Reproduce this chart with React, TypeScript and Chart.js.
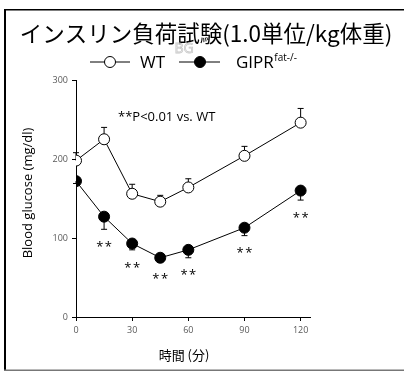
import React, { useEffect, useRef } from "react";
import { Chart, registerables } from "chart.js";

Chart.register(...registerables);

const times = [0, 15, 30, 45, 60, 90, 120];
const wtMean = [198, 225, 156, 146, 164, 204, 246];
const wtErr = [10, 15, 12, 8, 11, 12, 18];
const giprMean = [172, 127, 93, 75, 85, 113, 160];
const giprErr = [3, 16, 8, 4, 10, 10, 12];
const significant = [false, true, true, true, true, true, true];
const xTicks = [0, 30, 60, 90, 120];
const yTicks = [0, 100, 200, 300];

const titleText = "インスリン負荷試験(1.0単位/kg体重)";
const wtLabel = "WT";
const giprLabel = "GIPR";
const giprSup = "fat-/-";
const noteText = "**P<0.01 vs. WT";
const xTitle = "時間 (分)";
const yTitle = "Blood glucose (mg/dl)";

const SANS = "'Open Sans', 'Noto Sans', sans-serif";
const CJK = "'Noto Sans CJK JP', sans-serif";

const decorPlugin = {
  id: "decor",
  beforeDatasetsDraw(chart: any) {
    const ctx = chart.ctx;
    const xs = chart.scales.x;
    const ys = chart.scales.y;
    ctx.save();
    ctx.strokeStyle = "#000";
    ctx.lineWidth = 1;
    const bar = (vals: number[], errs: number[], dir: number) => {
      times.forEach((t, i) => {
        const px = xs.getPixelForValue(t);
        const p0 = ys.getPixelForValue(vals[i]);
        const p1 = ys.getPixelForValue(vals[i] + dir * errs[i]);
        ctx.beginPath();
        ctx.moveTo(px, p0);
        ctx.lineTo(px, p1);
        ctx.moveTo(px - 3, p1);
        ctx.lineTo(px + 3, p1);
        ctx.stroke();
      });
    };
    bar(wtMean, wtErr, 1);
    bar(giprMean, giprErr, -1);
    ctx.restore();
  },
  afterDraw(chart: any) {
    const ctx = chart.ctx;
    const xs = chart.scales.x;
    const ys = chart.scales.y;
    ctx.save();
    // frame
    ctx.fillStyle = "#000";
    ctx.fillRect(4, 9, 400, 1.5);
    ctx.fillRect(4, 9, 2, 362);
    ctx.fillStyle = "#777";
    ctx.fillRect(4, 369.5, 400, 1.5);

    // title
    ctx.fillStyle = "#000";
    ctx.textAlign = "center";
    ctx.textBaseline = "middle";
    ctx.font = `22.5px ${CJK}`;
    ctx.fillText(titleText, 206, 33);

    // BG watermark
    ctx.strokeStyle = "#c8c8c8";
    ctx.lineWidth = 0.8;
    ctx.font = `14px ${SANS}`;
    ctx.strokeText("BG", 184, 49);

    // legend
    ctx.strokeStyle = "#000";
    ctx.lineWidth = 1;
    const legendItem = (x0: number, x1: number, cx: number, fill: string) => {
      ctx.beginPath();
      ctx.moveTo(x0, 62);
      ctx.lineTo(x1, 62);
      ctx.stroke();
      ctx.beginPath();
      ctx.arc(cx, 62, 5.5, 0, Math.PI * 2);
      ctx.fillStyle = fill;
      ctx.fill();
      ctx.stroke();
    };
    legendItem(90, 130, 110, "#fff");
    legendItem(179, 220, 200, "#000");
    ctx.fillStyle = "#000";
    ctx.textAlign = "left";
    ctx.textBaseline = "alphabetic";
    ctx.font = `17px ${SANS}`;
    ctx.fillText(wtLabel, 140, 68);
    ctx.fillText(giprLabel, 236, 68);
    const gw = ctx.measureText(giprLabel).width;
    ctx.font = `10px ${SANS}`;
    ctx.fillText(giprSup, 236 + gw + 0.5, 61);

    // note
    ctx.font = `13px ${SANS}`;
    ctx.textBaseline = "middle";
    ctx.fillText(noteText, 118, 117);

    // asterisks
    ctx.textAlign = "center";
    ctx.font = `13px ${SANS}`;
    (ctx as any).letterSpacing = "1.5px";
    times.forEach((t, i) => {
      if (!significant[i]) return;
      const px = xs.getPixelForValue(t);
      const py = ys.getPixelForValue(giprMean[i] - giprErr[i]) + 18;
      ctx.fillText("**", px + 0.75, py);
    });
    (ctx as any).letterSpacing = "0px";

    // axis titles
    ctx.font = `13px ${CJK}`;
    ctx.fillText(xTitle, 184, 355);
    ctx.save();
    ctx.translate(28, 193);
    ctx.rotate(-Math.PI / 2);
    ctx.font = `13px ${SANS}`;
    ctx.fillText(yTitle, 0, 0);
    ctx.restore();
    ctx.restore();
  },
};

export default function App() {
  const ref = useRef<HTMLCanvasElement | null>(null);
  useEffect(() => {
    const canvas = ref.current;
    if (!canvas) return;
    const chart = new Chart(canvas, {
      type: "line",
      data: {
        datasets: [
          {
            label: wtLabel,
            data: times.map((t, i) => ({ x: t, y: wtMean[i] })),
            borderColor: "#000",
            borderWidth: 1,
            pointRadius: 5.5,
            pointBorderWidth: 1,
            pointBorderColor: "#000",
            pointBackgroundColor: "#fff",
          },
          {
            label: giprLabel,
            data: times.map((t, i) => ({ x: t, y: giprMean[i] })),
            borderColor: "#000",
            borderWidth: 1,
            pointRadius: 5.5,
            pointBorderWidth: 1,
            pointBorderColor: "#000",
            pointBackgroundColor: "#000",
          },
        ],
      },
      options: {
        animation: false,
        responsive: false,
        devicePixelRatio: 1,
        layout: { padding: { left: 0, right: 94, top: 80, bottom: 0 } },
        plugins: { legend: { display: false }, tooltip: { enabled: false }, title: { display: false } },
        scales: {
          x: {
            type: "linear",
            min: 0,
            max: 125,
            afterBuildTicks: (s: any) => {
              s.ticks = xTicks.map((v) => ({ value: v }));
            },
            afterFit: (s: any) => {
              s.height = 54;
            },
            grid: { drawOnChartArea: false, drawTicks: true, tickLength: 4, color: "#000" },
            border: { color: "#000", width: 1 },
            ticks: { color: "#595959", font: { family: SANS, size: 9 }, padding: 4, maxRotation: 0 },
          },
          y: {
            type: "linear",
            min: 0,
            max: 300,
            afterBuildTicks: (s: any) => {
              s.ticks = yTicks.map((v) => ({ value: v }));
            },
            afterFit: (s: any) => {
              s.width = 76;
            },
            grid: { drawOnChartArea: false, drawTicks: true, tickLength: 4, color: "#000" },
            border: { color: "#000", width: 1 },
            ticks: { color: "#595959", font: { family: SANS, size: 9 }, padding: 4 },
          },
        },
      },
      plugins: [decorPlugin],
    } as any);
    return () => chart.destroy();
  }, []);
  return (
    <div style={{ position: "absolute", left: 0, top: 0, width: 404, height: 371, background: "#fff" }}>
      <canvas ref={ref} width={404} height={371} style={{ display: "block", width: 404, height: 371 }} />
    </div>
  );
}
